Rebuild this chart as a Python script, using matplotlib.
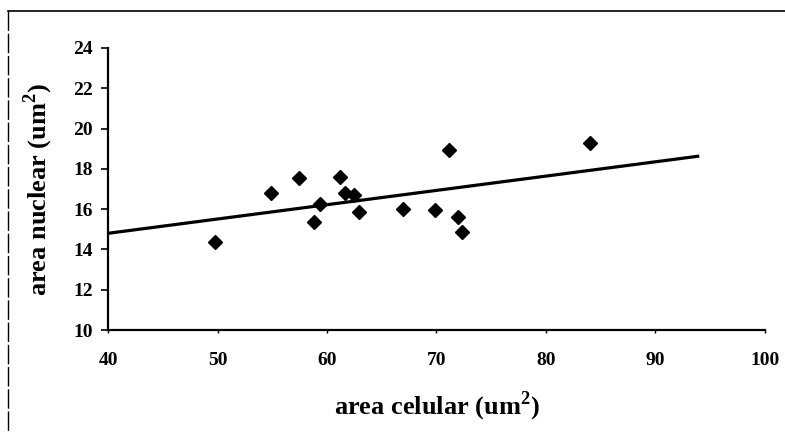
import numpy as np
import matplotlib.pyplot as plt
from matplotlib.lines import Line2D

# data
areaCelular = [49.8, 54.9, 57.4, 58.8, 59.4, 61.2, 61.6, 62.5, 62.9,
               66.9, 69.9, 71.1, 72.0, 72.3, 84.0]
areaNuclear = [14.35, 16.8, 17.55, 15.35, 16.25, 17.6, 16.8, 16.7, 15.85,
               16.0, 15.95, 18.95, 15.6, 14.85, 19.3]
xTicks = [40, 50, 60, 70, 80, 90, 100]
yTicks = [10, 12, 14, 16, 18, 20, 22, 24]

plt.rcParams['font.family'] = ['Liberation Serif', 'DejaVu Serif']
plt.rcParams['font.weight'] = 'bold'
plt.rcParams['mathtext.fontset'] = 'custom'
plt.rcParams['mathtext.rm'] = 'Liberation Serif:bold'
plt.rcParams['mathtext.bf'] = 'Liberation Serif:bold'

fig = plt.figure(figsize=(7.85, 4.32), dpi=100)
ax = fig.add_axes([0.1376, 0.236, 0.8369, 0.653])

# linear trend, extended 10 units on both sides like Excel forecast
slope, intercept = np.polyfit(areaCelular, areaNuclear, 1)
xLine = np.array([min(areaCelular) - 10, max(areaCelular) + 10])
ax.plot(xLine, slope * xLine + intercept, color='black', lw=2.3,
        solid_capstyle='butt')

ax.plot(areaCelular, areaNuclear, linestyle='none', marker='D',
        markersize=7.5, color='black')

ax.set_xlim(40, 100)
ax.set_ylim(10, 24)
ax.set_xticks(xTicks)
ax.set_yticks(yTicks)
ax.spines['top'].set_visible(False)
ax.spines['right'].set_visible(False)
ax.spines['left'].set_linewidth(1.6)
ax.spines['bottom'].set_linewidth(1.6)
ax.tick_params(axis='y', direction='out', length=5, width=1.2,
               labelsize=14, pad=6)
ax.tick_params(axis='x', direction='out', length=2.5, width=1.0,
               labelsize=14, pad=13)

ax.set_xlabel('area celular (um$^\\mathbf{2}$)', fontsize=19,
              fontweight='bold', labelpad=15)
ax.set_ylabel('area nuclear (um$^\\mathbf{2}$)', fontsize=19,
              fontweight='bold', labelpad=13)

# frame of the pasted picture (top and left edges)
fig.add_artist(Line2D([8 / 785, 1.0], [1 - 11 / 432, 1 - 11 / 432],
                      transform=fig.transFigure, color='black', lw=1.2))
fig.add_artist(Line2D([8 / 785, 8 / 785], [1 - 11 / 432, 0.0],
                      transform=fig.transFigure, color='black', lw=1.0,
                      linestyle=(0, (14, 2))))

plt.savefig('out.png', dpi=100)
